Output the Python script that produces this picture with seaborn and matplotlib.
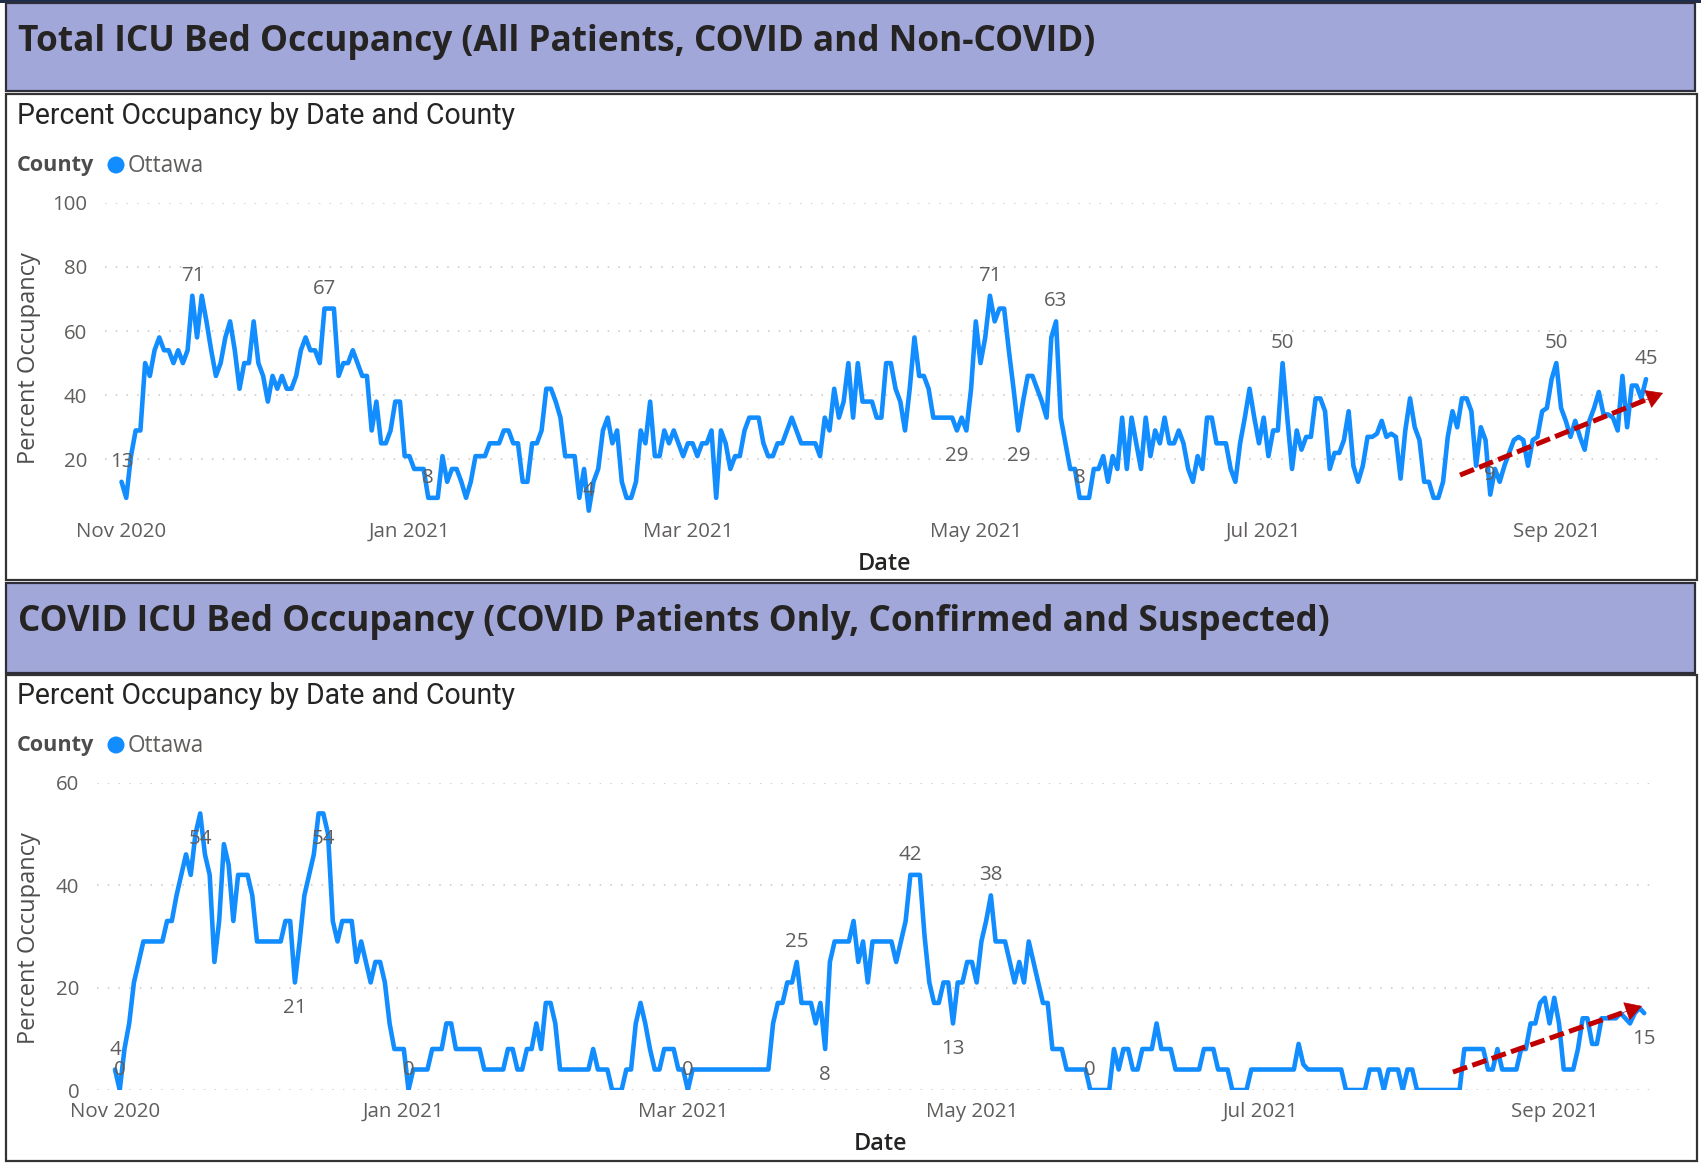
import numpy as np
import pandas as pd
import matplotlib
matplotlib.use("Agg")
import matplotlib.pyplot as plt
import matplotlib.dates as mdates
from matplotlib.patches import Rectangle, Circle, FancyArrowPatch
from matplotlib.textpath import TextPath
from matplotlib.font_manager import FontProperties
import seaborn as sns

# ---------- Data ----------
start_date = "2020-11-01"

# percent occupancy, all ICU patients (daily from Nov 1 2020)
total_pct = [
    13, 8, 21, 29, 29, 50, 46, 54, 58, 54,
    54, 50, 54, 50, 54, 71, 58, 71, 63, 54,
    46, 50, 58, 63, 54, 42, 50, 50, 63, 50,
    46, 38, 46, 42, 46, 42, 42, 46, 54, 58,
    54, 54, 50, 67, 67, 67, 46, 50, 50, 54,
    50, 46, 46, 29, 38, 25, 25, 29, 38, 38,
    21, 21, 17, 17, 17, 8, 8, 8, 21, 13,
    17, 17, 13, 8, 13, 21, 21, 21, 25, 25,
    25, 29, 29, 25, 25, 13, 13, 25, 25, 29,
    42, 42, 38, 33, 21, 21, 21, 8, 17, 4,
    13, 17, 29, 33, 25, 29, 13, 8, 8, 13,
    29, 25, 38, 21, 21, 29, 25, 29, 25, 21,
    25, 25, 21, 25, 25, 29, 8, 29, 25, 17,
    21, 21, 29, 33, 33, 33, 25, 21, 21, 25,
    25, 29, 33, 29, 25, 25, 25, 25, 21, 33,
    29, 42, 33, 38, 50, 33, 50, 38, 38, 38,
    33, 33, 50, 50, 42, 38, 29, 42, 58, 46,
    46, 42, 33, 33, 33, 33, 33, 29, 33, 29,
    42, 63, 50, 58, 71, 63, 67, 67, 54, 42,
    29, 38, 46, 46, 42, 38, 33, 58, 63, 33,
    25, 17, 17, 8, 8, 8, 17, 17, 21, 13,
    21, 17, 33, 17, 33, 25, 17, 33, 21, 29,
    25, 33, 25, 25, 29, 25, 17, 13, 21, 17,
    33, 33, 25, 25, 25, 17, 13, 25, 33, 42,
    33, 25, 33, 21, 29, 29, 50, 33, 17, 29,
    23, 27, 27, 39, 39, 35, 17, 22, 22, 26,
    35, 18, 13, 18, 27, 27, 28, 32, 27, 28,
    27, 14, 29, 39, 30, 26, 13, 13, 8, 8,
    13, 27, 35, 30, 39, 39, 35, 18, 30, 26,
    9, 17, 13, 18, 22, 26, 27, 26, 18, 26,
    27, 35, 36, 45, 50, 36, 32, 27, 32, 27,
    23, 32, 36, 41, 34, 34, 33, 29, 46, 30,
    43, 43, 39, 45,
]

# percent occupancy, COVID patients only
covid_pct = [
    4, 0, 8, 13, 21, 25, 29, 29, 29, 29,
    29, 33, 33, 38, 42, 46, 42, 50, 54, 46,
    42, 25, 33, 48, 44, 33, 42, 42, 42, 38,
    29, 29, 29, 29, 29, 29, 33, 33, 21, 29,
    38, 42, 46, 54, 54, 50, 33, 29, 33, 33,
    33, 25, 29, 25, 21, 25, 25, 21, 13, 8,
    8, 8, 0, 4, 4, 4, 4, 8, 8, 8,
    13, 13, 8, 8, 8, 8, 8, 8, 4, 4,
    4, 4, 4, 8, 8, 4, 4, 8, 8, 13,
    8, 17, 17, 13, 4, 4, 4, 4, 4, 4,
    4, 8, 4, 4, 4, 0, 0, 0, 4, 4,
    13, 17, 13, 8, 4, 4, 8, 8, 8, 4,
    4, 0, 4, 4, 4, 4, 4, 4, 4, 4,
    4, 4, 4, 4, 4, 4, 4, 4, 4, 13,
    17, 17, 21, 21, 25, 17, 17, 17, 13, 17,
    8, 25, 29, 29, 29, 29, 33, 25, 29, 21,
    29, 29, 29, 29, 29, 25, 29, 33, 42, 42,
    42, 30, 21, 17, 17, 21, 21, 13, 21, 21,
    25, 25, 21, 29, 33, 38, 29, 29, 29, 25,
    21, 25, 21, 29, 25, 21, 17, 17, 8, 8,
    8, 4, 4, 4, 4, 4, 0, 0, 0, 0,
    0, 8, 4, 8, 8, 4, 4, 8, 8, 8,
    13, 8, 8, 8, 4, 4, 4, 4, 4, 4,
    8, 8, 8, 4, 4, 4, 0, 0, 0, 0,
    4, 4, 4, 4, 4, 4, 4, 4, 4, 4,
    9, 5, 4, 4, 4, 4, 4, 4, 4, 4,
    0, 0, 0, 0, 0, 4, 4, 4, 0, 4,
    4, 4, 0, 4, 4, 0, 0, 0, 0, 0,
    0, 0, 0, 0, 0, 8, 8, 8, 8, 8,
    4, 4, 8, 4, 4, 4, 4, 8, 8, 13,
    13, 17, 18, 13, 18, 13, 4, 4, 4, 8,
    14, 14, 9, 9, 14, 14, 14, 14, 15, 14,
    13, 15, 16, 15,
]

# which days get a data label, and on which side of the line
total_label_days = [0, 15, 43, 65, 99, 177, 184, 190, 198, 203, 246, 290, 304, 323]
total_label_side = ["a", "a", "a", "a", "a", "b", "a", "b", "a", "a", "a", "a", "a", "a"]
covid_label_days = [0, 1, 18, 38, 44, 62, 121, 144, 150, 168, 177, 185, 206, 323]
covid_label_side = ["a", "a", "b", "b", "b", "a", "a", "a", "b", "a", "b", "a", "a", "b"]

total_yticks = [20, 40, 60, 80, 100]
covid_yticks = [0, 20, 40, 60]

titles = ["Total ICU Bed Occupancy (All Patients, COVID and Non-COVID)",
          "COVID ICU Bed Occupancy (COVID Patients Only, Confirmed and Suspected)"]
subtitle = "Percent Occupancy by Date and County"
legend_title, legend_item = "County", "Ottawa"
y_label, x_label = "Percent Occupancy", "Date"

# ---------- Style ----------
W, H, DPI = 1701, 1164, 100
LINE = "#118DFF"
HEAD_BG = "#A1A7D9"
GRID = "#C8C6C4"
TICK = "#605E5C"
DARK = "#252423"
ARROW = "#C00000"
HEAD_FONT = dict(family="Open Sans", weight="bold")
SEMI_FONT = dict(family="Open Sans", weight="semibold")
SUB_FONT = dict(family="Roboto", weight="normal")
BODY_FONT = dict(family="Open Sans", weight="normal")


def px_rect(x0, y0, x1, y1):
    return [x0 / W, 1 - y1 / H, (x1 - x0) / W, (y1 - y0) / H]


def fit_size(s, width_px, **font):
    # font size (pt) so that the ink width of s is width_px
    w = TextPath((0, 0), s, size=100, prop=FontProperties(**font)).get_extents().width
    return width_px * 72 * 100 / (w * DPI)


layouts = [
    dict(head=(3, 91), box=(94, 580), title_y=42, title_w=1078, sub_y=116, leg_y=166,
         ax=(105, 202.7, 1663, 523.5), xlim=(-3.5, 326.6), ylim=(0, 100), yticks=total_yticks,
         xpad=-1, ypad=13, ylab=(29, 358), xlab=(884, 564),
         arrow=((283.6, 15.1), (326.6, 40.7))),
    dict(head=(583, 673), box=(675, 1161), title_y=622.5, title_w=1308, sub_y=696, leg_y=746,
         ax=(97, 782.7, 1657, 1090), xlim=(-3.8, 325.7), ylim=(0, 60), yticks=covid_yticks,
         xpad=8.5, ypad=12.7, ylab=(29, 938), xlab=(880, 1144),
         arrow=((282.6, 3.5), (322.5, 16.4))),
]


def draw_panel(fig, bg, lay, title, vals, label_days, label_side, tick_size):
    h0, h1 = lay["head"]
    b0, b1 = lay["box"]
    bg.add_patch(Rectangle((6, h0), 1689, h1 - h0, fc=HEAD_BG, ec="#2E2E3A", lw=1.6))
    bg.add_patch(Rectangle((6, b0), 1691, b1 - b0, fc="white", ec="#333333", lw=1.6))
    bg.text(18, lay["title_y"], title, ha="left", va="center", color=DARK,
            fontsize=fit_size(title, lay["title_w"], **HEAD_FONT), **HEAD_FONT)
    bg.text(17, lay["sub_y"], subtitle, ha="left", va="center", color=DARK,
            fontsize=fit_size(subtitle, 497, **SUB_FONT), **SUB_FONT)

    # legend
    bg.text(17, lay["leg_y"], legend_title, ha="left", va="center", color="#4D4D4D",
            fontsize=fit_size(legend_title, 76, **HEAD_FONT), **HEAD_FONT)
    bg.add_patch(Circle((116, lay["leg_y"] - 1), 8.5, fc=LINE, ec="none"))
    bg.text(128, lay["leg_y"], legend_item, ha="left", va="center", color=TICK,
            fontsize=fit_size(legend_item, 73, **BODY_FONT), **BODY_FONT)

    # axis titles
    bg.text(*lay["ylab"], y_label, rotation=90, ha="center", va="center", color="#4D4D4D",
            fontsize=fit_size(y_label, 209, **BODY_FONT), **BODY_FONT)
    bg.text(*lay["xlab"], x_label, ha="center", va="center", color=DARK,
            fontsize=fit_size(x_label, 50, **SEMI_FONT), **SEMI_FONT)

    # chart
    ax = fig.add_axes(px_rect(*lay["ax"]))
    ax.patch.set_alpha(0)
    dates = pd.date_range(start_date, periods=len(vals), freq="D")
    sns.lineplot(x=dates, y=vals, ax=ax, color=LINE, lw=3.3)
    t0 = pd.Timestamp(start_date)
    ax.set_xlim(t0 + pd.Timedelta(days=lay["xlim"][0]), t0 + pd.Timedelta(days=lay["xlim"][1]))
    ax.set_ylim(*lay["ylim"])
    ax.set_yticks(lay["yticks"])
    ax.xaxis.set_major_locator(mdates.MonthLocator(bymonth=(1, 3, 5, 7, 9, 11)))
    ax.xaxis.set_major_formatter(mdates.DateFormatter("%b %Y"))
    ax.grid(axis="y", color=GRID, ls=(0, (1, 6)), lw=1.1)
    ax.grid(axis="x", visible=False)
    sns.despine(ax=ax, left=True, bottom=True)
    ax.tick_params(length=0, colors=TICK, labelsize=tick_size)
    ax.tick_params(axis="x", pad=lay["xpad"])
    ax.tick_params(axis="y", pad=lay["ypad"])
    ax.set_xlabel("")
    ax.set_ylabel("")

    # data labels
    for d, side in zip(label_days, label_side):
        dy = 20 if side == "a" else -26
        ax.annotate(f"{vals[d]:.0f}", (dates[d], vals[d]), xytext=(0, dy * 72 / DPI),
                    textcoords="offset points", ha="center", va="center",
                    color=TICK, fontsize=tick_size, annotation_clip=False)

    # red dashed trend arrow
    (d0, v0), (d1, v1) = lay["arrow"]
    x0 = mdates.date2num(t0 + pd.Timedelta(days=d0))
    x1 = mdates.date2num(t0 + pd.Timedelta(days=d1))
    xm, vm = x0 + (x1 - x0) * 0.93, v0 + (v1 - v0) * 0.93
    xh, vh = x0 + (x1 - x0) * 0.9, v0 + (v1 - v0) * 0.9
    ax.plot([x0, xm], [v0, vm], color=ARROW, lw=3.6, ls=(0, (3, 1.1)),
            solid_capstyle="butt", dash_capstyle="butt", clip_on=False, zorder=5)
    ax.add_patch(FancyArrowPatch((xh, vh), (x1, v1), arrowstyle="-|>,head_length=11,head_width=6.5",
                                 mutation_scale=1, color=ARROW, lw=0.5, shrinkA=0, shrinkB=0,
                                 clip_on=False, zorder=6))
    return ax


def main():
    sns.set_theme(style="white")
    plt.rcParams["font.family"] = ["Open Sans", "DejaVu Sans"]

    fig = plt.figure(figsize=(W / DPI, H / DPI), dpi=DPI)
    bg = fig.add_axes([0, 0, 1, 1])
    bg.set_xlim(0, W)
    bg.set_ylim(H, 0)
    bg.axis("off")
    bg.add_patch(Rectangle((0, 0), W, 3, fc="#1F2D4A", ec="none"))

    tick_size = fit_size("Nov 2020", 87, **BODY_FONT)
    draw_panel(fig, bg, layouts[0], titles[0], total_pct, total_label_days, total_label_side, tick_size)
    draw_panel(fig, bg, layouts[1], titles[1], covid_pct, covid_label_days, covid_label_side, tick_size)

    fig.savefig("out.png", dpi=DPI)
    plt.close(fig)


if __name__ == "__main__":
    main()
